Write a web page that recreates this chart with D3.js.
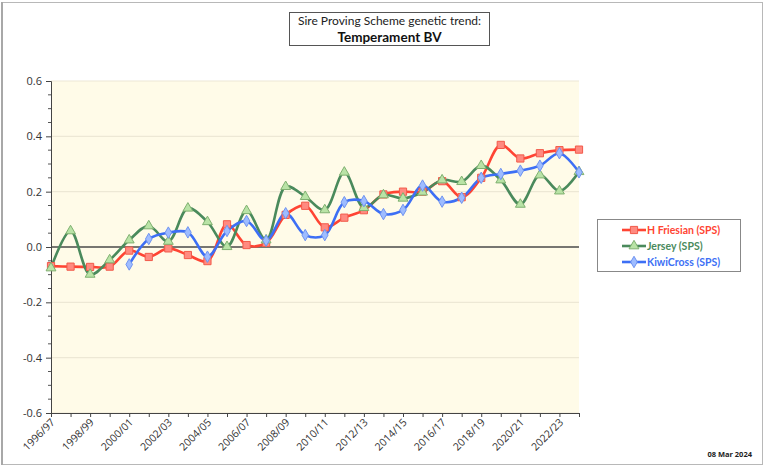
<!DOCTYPE html>
<html><head><meta charset="utf-8">
<script src="https://cdn.jsdelivr.net/npm/d3@7"></script>
<style>
body{margin:0;background:#fff;font-family:"Noto Sans","DejaVu Sans",sans-serif;}
svg{display:block}
</style></head><body>
<svg id="chart" width="768" height="468"></svg>
<script>
const seasons = ["1996/97","1997/98","1998/99","1999/00","2000/01","2001/02","2002/03","2003/04","2004/05","2005/06","2006/07","2007/08","2008/09","2009/10","2010/11","2011/12","2012/13","2013/14","2014/15","2015/16","2016/17","2017/18","2018/19","2019/20","2020/21","2021/22","2022/23","2023/24"];
const friesian = [-0.069,-0.071,-0.072,-0.071,-0.013,-0.036,-0.005,-0.029,-0.051,0.082,0.007,0.015,0.116,0.149,0.071,0.106,0.133,0.19,0.2,0.2,0.238,0.18,0.25,0.369,0.32,0.339,0.35,0.352];
const jersey = [-0.076,0.058,-0.099,-0.047,0.025,0.076,0.02,0.14,0.091,0.001,0.131,0.025,0.218,0.182,0.134,0.27,0.142,0.188,0.176,0.198,0.242,0.236,0.294,0.242,0.154,0.26,0.202,0.272];
const kiwicross = [null,null,null,null,-0.063,0.029,0.052,0.053,-0.035,0.058,0.094,0.023,0.122,0.043,0.043,0.162,0.166,0.119,0.134,0.222,0.164,0.178,0.25,0.264,0.276,0.294,0.339,0.27];
const yTicks = [-0.6,-0.4,-0.2,0.0,0.2,0.4,0.6];
const seriesNames = ["H Friesian (SPS)","Jersey (SPS)","KiwiCross (SPS)"];

const series = [
  {name:seriesNames[0], values:friesian, line:"#ff4433", fill:"#ff8a80", stroke:"#f25a4a", sym:d3.symbolSquare, size:52},
  {name:seriesNames[1], values:jersey, line:"#4a8a5c", fill:"#b9e3a6", stroke:"#7fb070", sym:d3.symbolTriangle, size:42},
  {name:seriesNames[2], values:kiwicross, line:"#3d6ff5", fill:"#9ebcff", stroke:"#6f93f0", sym:d3.symbolDiamond, size:38}
];

const svg = d3.select("#chart");
const L=51, R=579, T=81, B=413;

// outer border
svg.append("rect").attr("x",2.5).attr("y",2.5).attr("width",760).attr("height",462)
  .attr("fill","#fff").attr("stroke","#b8b8b8").attr("stroke-width",1);
svg.append("line").attr("x1",2).attr("x2",2).attr("y1",2).attr("y2",465).attr("stroke","#a8a8a8").attr("stroke-width",2);

const x = d3.scalePoint().domain(seasons).range([L,R]);
const y = d3.scaleLinear().domain([-0.6,0.6]).range([B,T]);

// plot background
svg.append("rect").attr("x",L).attr("y",T).attr("width",R-L).attr("height",B-T).attr("fill","#fffbe8");

// gridlines
svg.append("g").selectAll("line").data(yTicks.filter(v=>v!==0)).join("line")
  .attr("x1",L).attr("x2",R).attr("y1",d=>y(d)).attr("y2",d=>y(d))
  .attr("stroke","#ede8d5").attr("stroke-width",1.2);

// y axis
const yAxis = d3.axisLeft(y).tickValues(yTicks).tickFormat(d3.format(".1f")).tickSize(5);
const gy = svg.append("g").attr("transform",`translate(${L},0)`).call(yAxis);
gy.select(".domain").attr("stroke","#444");
gy.selectAll(".tick line").attr("stroke","#444");
gy.selectAll(".tick text").attr("font-size",11).attr("fill","#333").attr("x",-9)
  .attr("font-family","'Open Sans','Noto Sans',sans-serif")
  .text(d=> d<0 ? "-"+Math.abs(d).toFixed(1) : d.toFixed(1));
// minor ticks
const minor = d3.range(-0.6,0.6001,0.05).map(v=>+v.toFixed(2)).filter(v=>!yTicks.some(t=>Math.abs(t-v)<1e-9));
svg.append("g").selectAll("line").data(minor).join("line")
  .attr("x1",L-3).attr("x2",L).attr("y1",d=>y(d)).attr("y2",d=>y(d)).attr("stroke","#555");

// x axis
const xAxis = d3.axisBottom(x).tickSize(4).tickFormat((d,i)=> i%2===0 ? d : "");
const gx = svg.append("g").attr("transform",`translate(0,${B})`).call(xAxis);
gx.select(".domain").attr("stroke","#444");
gx.selectAll(".tick line").attr("stroke","#444");
gx.selectAll(".tick text").attr("font-size",10.5).attr("fill","#333")
  .attr("font-family","'Open Sans','Noto Sans',sans-serif")
  .attr("text-anchor","end").attr("dy",0).attr("y",0)
  .attr("transform","translate(4,10) rotate(-45)");

// zero line
svg.append("line").attr("x1",L).attr("x2",R).attr("y1",y(0)).attr("y2",y(0)).attr("stroke","#4a4a4a").attr("stroke-width",1.6);

// lines
const line = d3.line().defined(d=>d.v!==null).x(d=>x(d.s)).y(d=>y(d.v)).curve(d3.curveCatmullRom.alpha(0.5));
series.forEach(s=>{
  const pts = seasons.map((sn,i)=>({s:sn,v:s.values[i]}));
  svg.append("path").datum(pts).attr("d",line).attr("fill","none").attr("stroke",s.line).attr("stroke-width",2.6);
});
series.forEach(s=>{
  const pts = seasons.map((sn,i)=>({s:sn,v:s.values[i]})).filter(d=>d.v!==null);
  svg.append("g").selectAll("path").data(pts).join("path")
    .attr("d",d3.symbol().type(s.sym).size(s.size))
    .attr("transform",d=>`translate(${x(d.s)},${y(d.v)})`)
    .attr("fill",s.fill).attr("stroke",s.stroke).attr("stroke-width",1);
});

// title box
svg.append("rect").attr("x",289.5).attr("y",12.5).attr("width",200).attr("height",33).attr("fill","#fff").attr("stroke","#555");
svg.append("text").attr("x",389.5).attr("y",25).attr("text-anchor","middle").attr("font-size",12).attr("fill","#222")
  .attr("font-family","Lato,'Noto Sans',sans-serif").text("Sire Proving Scheme genetic trend:");
svg.append("text").attr("x",389.5).attr("y",41.5).attr("text-anchor","middle").attr("font-size",13.5).attr("font-weight","bold").attr("fill","#111")
  .attr("font-family","Lato,'Noto Sans',sans-serif").text("Temperament BV");

// legend
svg.append("rect").attr("x",597.5).attr("y",219.5).attr("width",143).attr("height",52).attr("fill","#fff").attr("stroke","#888");
series.forEach((s,i)=>{
  const cy = 230+i*16;
  svg.append("line").attr("x1",622).attr("x2",646).attr("y1",cy).attr("y2",cy).attr("stroke",s.line).attr("stroke-width",2.6);
  svg.append("path").attr("d",d3.symbol().type(s.sym).size(s.size)).attr("transform",`translate(634,${cy})`)
    .attr("fill",s.fill).attr("stroke",s.stroke);
  svg.append("text").attr("x",647).attr("y",cy+4).attr("font-size",10.5).attr("font-weight","bold")
    .attr("font-family","Lato,'Noto Sans',sans-serif").attr("fill",s.line).text(s.name);
});

// date
svg.append("text").attr("x",752).attr("y",457).attr("text-anchor","end").attr("font-size",7.5).attr("font-weight","bold")
  .attr("font-family","'Noto Sans',sans-serif").attr("fill","#222").text("08 Mar 2024");
</script>
</body></html>
